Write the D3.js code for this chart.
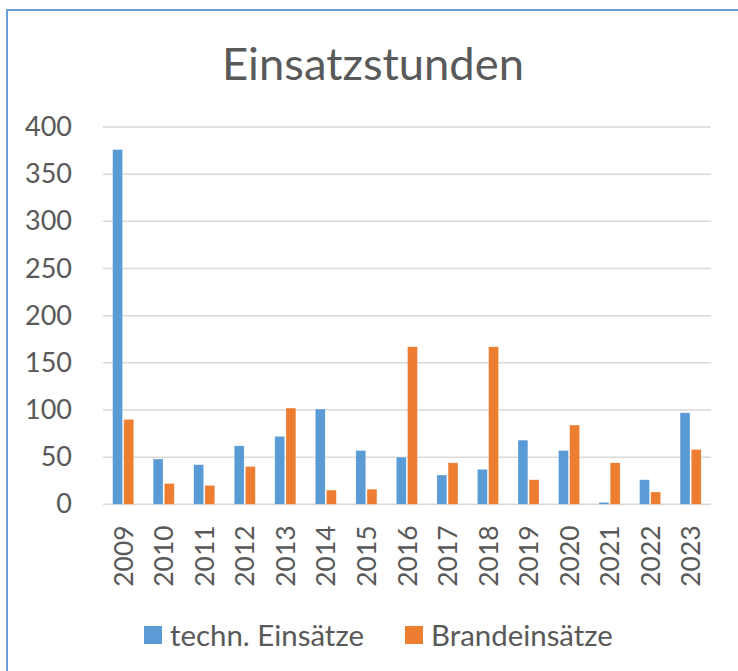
<!DOCTYPE html>
<html>
<head>
<meta charset="utf-8">
<script src="https://cdn.jsdelivr.net/npm/d3@7"></script>
<style>
  html, body { margin: 0; padding: 0; background: #ffffff; }
  svg { display: block; }
  text { font-family: Lato, "Open Sans", sans-serif; fill: #595959; }
</style>
</head>
<body>
<svg id="chart" width="738" height="671"></svg>
<script>
// ---- data ----
const years = ["2009","2010","2011","2012","2013","2014","2015","2016","2017","2018","2019","2020","2021","2022","2023"];
const technEinsaetze = [376, 48, 42, 62, 72, 101, 57, 50, 31, 37, 68, 57, 2, 26, 97];
const brandEinsaetze = [90, 22, 20, 40, 102, 15, 16, 167, 44, 167, 26, 84, 44, 13, 58];
const seriesNames = ["techn. Einsätze", "Brandeinsätze"];
const yTicks = [0, 50, 100, 150, 200, 250, 300, 350, 400];
const titleText = "Einsatzstunden";

// ---- layout ----
const W = 738, H = 671;
const colors = ["#5b9bd5", "#ed7d31"];
const plot = { left: 103, right: 711, top: 127, bottom: 504.3 };

const svg = d3.select("#chart");

// frame (left and top border)
svg.append("line").attr("x1", 7).attr("x2", 7).attr("y1", 10).attr("y2", H)
  .attr("stroke", "#6a9fd8").attr("stroke-width", 2);
svg.append("line").attr("x1", 6).attr("x2", W).attr("y1", 10).attr("y2", 10)
  .attr("stroke", "#6a9fd8").attr("stroke-width", 2);

// title
const title = svg.append("text")
  .attr("x", 373).attr("y", 80)
  .attr("text-anchor", "middle")
  .style("font-size", "44px")
  .style("font-weight", 400)
  .text(titleText);
{
  const w = title.node().getComputedTextLength();
  title.style("font-size", (44 * 302 / w).toFixed(2) + "px");
}

const x = d3.scaleBand().domain(years).range([plot.left, plot.right]).padding(0);
const y = d3.scaleLinear().domain([0, 400]).range([plot.bottom, plot.top]);

// gridlines
svg.append("g").selectAll("line").data(yTicks).join("line")
  .attr("x1", plot.left).attr("x2", plot.right)
  .attr("y1", d => y(d)).attr("y2", d => y(d))
  .attr("stroke", "#d9d9d9").attr("stroke-width", 1.5);

// y axis labels
const yAxis = d3.axisLeft(y).tickValues(yTicks).tickSize(0).tickPadding(0);
const gy = svg.append("g").attr("transform", `translate(72,0)`).call(yAxis);
gy.select(".domain").remove();
gy.selectAll("text").style("font-size", "27px").attr("fill", "#595959")
  .style("font-family", "Lato, 'Open Sans', sans-serif");

// bars
const inner = d3.scaleBand().domain([0, 1]).range([-10.6, 10.4]).paddingInner(0.12);
const barData = [];
years.forEach((yr, i) => {
  barData.push({ yr, s: 0, v: technEinsaetze[i] });
  barData.push({ yr, s: 1, v: brandEinsaetze[i] });
});
svg.append("g").selectAll("rect").data(barData).join("rect")
  .attr("x", d => x(d.yr) + x.bandwidth() / 2 + inner(d.s))
  .attr("width", inner.bandwidth())
  .attr("y", d => y(d.v))
  .attr("height", d => y(0) - y(d.v))
  .attr("fill", d => colors[d.s])
  .attr("stroke", "#ffffff").attr("stroke-opacity", 0.35).attr("stroke-width", 0.6);

// x axis labels (rotated)
const xAxis = d3.axisBottom(x).tickSize(0).tickPadding(0);
const gx = svg.append("g").attr("transform", `translate(0,${plot.bottom})`).call(xAxis);
gx.select(".domain").remove();
gx.selectAll("text")
  .style("font-size", "26.5px").attr("fill", "#595959")
  .style("font-family", "Lato, 'Open Sans', sans-serif")
  .attr("text-anchor", "end")
  .attr("transform", "rotate(-90)")
  .attr("x", -21).attr("y", 0).attr("dy", "0.36em");

// legend
const legendX = [144, 405];
const lg = svg.append("g").selectAll("g").data(seriesNames).join("g")
  .attr("transform", (d, i) => `translate(${legendX[i]},626)`);
lg.append("rect").attr("width", 18).attr("height", 18).attr("fill", (d, i) => colors[i]);
const lt = lg.append("text").attr("x", 26).attr("y", 9).attr("dy", "0.36em")
  .style("font-size", "26px").text(d => d);
{
  const w = lt.nodes()[0].getComputedTextLength();
  lt.style("font-size", (26 * 194 / w).toFixed(2) + "px");
}
</script>
</body>
</html>
